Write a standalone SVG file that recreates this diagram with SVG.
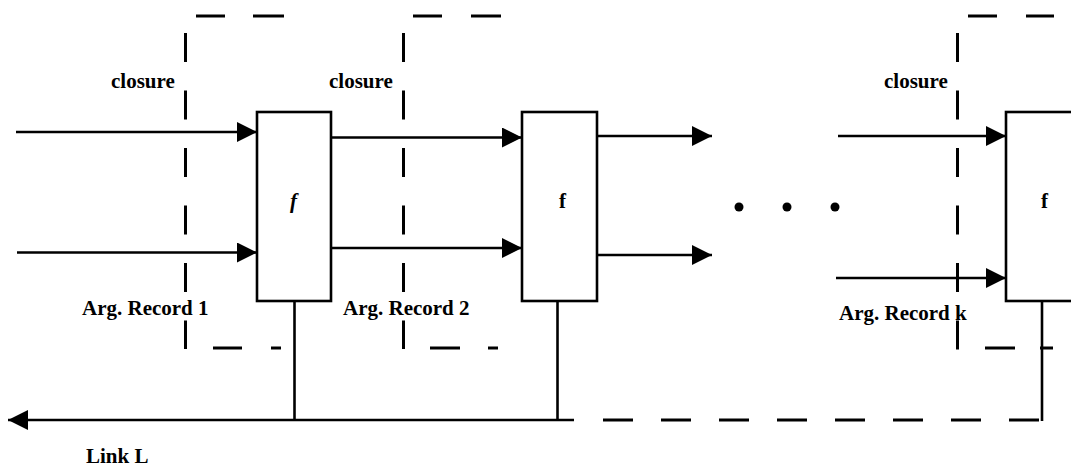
<svg xmlns="http://www.w3.org/2000/svg" width="1071" height="470" viewBox="0 0 1071 470">
<style>
.box{fill:#fff;stroke:#000;stroke-width:2.6}
.ln{stroke:#000;stroke-width:2.6;fill:none}
.dash{stroke:#000;stroke-width:3;fill:none}
.vd{stroke:#000;stroke-width:3;fill:none;stroke-dasharray:29 28.5}
.t{font-family:"Liberation Serif","Times New Roman",serif;font-size:21px;font-weight:bold;fill:#000}
</style>
<defs>
<marker id="ah" viewBox="0 0 20 20" refX="20" refY="10" markerWidth="20" markerHeight="20" markerUnits="userSpaceOnUse" orient="auto">
<path d="M0,0 L20,10 L0,20 Z" fill="#000"/>
</marker>
</defs>
<rect width="1071" height="470" fill="#fff"/>

<g id="closure1">
<line class="vd" x1="185.5" y1="33" x2="185.5" y2="349"/>
<line class="dash" x1="196" y1="16" x2="225" y2="16"/>
<line class="dash" x1="253" y1="16" x2="284" y2="16"/>
<line class="dash" x1="213" y1="348" x2="242" y2="348"/>
<line class="dash" x1="271" y1="348" x2="281" y2="348"/>
<text class="t" x="111" y="88">closure</text>
<text class="t" x="82" y="315">Arg. Record 1</text>
</g>

<g id="closure2">
<line class="vd" x1="403.5" y1="33" x2="403.5" y2="349"/>
<line class="dash" x1="413" y1="16" x2="442" y2="16"/>
<line class="dash" x1="471" y1="16" x2="501" y2="16"/>
<line class="dash" x1="430" y1="348" x2="460" y2="348"/>
<line class="dash" x1="488" y1="348" x2="498" y2="348"/>
<text class="t" x="329" y="88">closure</text>
<text class="t" x="343" y="315">Arg. Record 2</text>
</g>

<g id="closure3">
<line class="vd" x1="957.5" y1="33" x2="957.5" y2="350"/>
<line class="dash" x1="968" y1="16" x2="997" y2="16"/>
<line class="dash" x1="1026" y1="16" x2="1054" y2="16"/>
<line class="dash" x1="985" y1="348" x2="1015" y2="348"/>
<line class="dash" x1="1040" y1="348" x2="1053" y2="348"/>
<text class="t" x="884" y="88">closure</text>
<text class="t" x="839" y="320">Arg. Record k</text>
</g>

<g id="connectors">
<line class="ln" x1="16" y1="132" x2="257" y2="132" marker-end="url(#ah)"/>
<line class="ln" x1="17" y1="252.5" x2="257" y2="252.5" marker-end="url(#ah)"/>
<line class="ln" x1="331" y1="137.5" x2="522" y2="137.5" marker-end="url(#ah)"/>
<line class="ln" x1="331" y1="248" x2="522" y2="248" marker-end="url(#ah)"/>
<line class="ln" x1="597" y1="136" x2="712" y2="136" marker-end="url(#ah)"/>
<line class="ln" x1="597" y1="255" x2="712" y2="255" marker-end="url(#ah)"/>
<line class="ln" x1="838" y1="136" x2="1006" y2="136" marker-end="url(#ah)"/>
<line class="ln" x1="836" y1="278" x2="1006" y2="278" marker-end="url(#ah)"/>
<line class="ln" x1="294.5" y1="300" x2="294.5" y2="420"/>
<line class="ln" x1="557.5" y1="300" x2="557.5" y2="420"/>
<line class="ln" x1="574" y1="420" x2="8" y2="420" marker-end="url(#ah)"/>
<line class="dash" x1="603" y1="420" x2="1039" y2="420" style="stroke-dasharray:30 28"/>
<line class="ln" x1="1042" y1="300" x2="1042" y2="421"/>
</g>

<g id="f1">
<rect class="box" x="257" y="112" width="74" height="189"/>
<text class="t" x="290" y="208" font-style="italic">f</text>
</g>
<g id="f2">
<rect class="box" x="522" y="112" width="75" height="189"/>
<text class="t" x="559" y="208">f</text>
</g>
<g id="f3">
<rect class="box" x="1006" y="112" width="100" height="189"/>
<text class="t" x="1041" y="208">f</text>
</g>

<g id="ellipsis">
<circle cx="739" cy="207" r="4.5"/>
<circle cx="787" cy="207" r="4.5"/>
<circle cx="835" cy="207" r="4.5"/>
</g>

<text class="t" x="86" y="463">Link L</text>
</svg>
